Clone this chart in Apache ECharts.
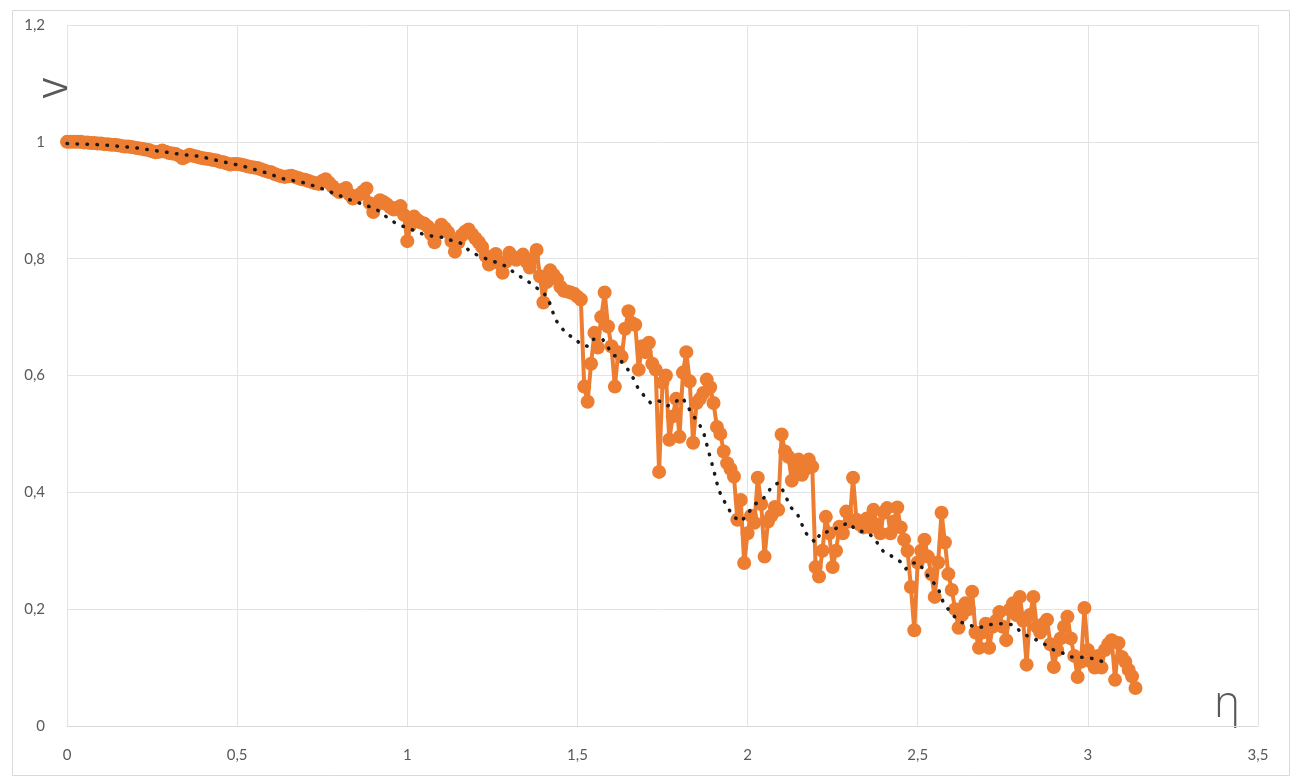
<!DOCTYPE html>
<html>
<head>
<meta charset="utf-8">
<script src="https://cdn.jsdelivr.net/npm/echarts@6/dist/echarts.min.js"></script>
<style>
html,body{margin:0;padding:0;background:#fff;}
#chart{width:1297px;height:776px;}
</style>
</head>
<body>
<div id="chart"></div>
<script>
// η values of the measured series (0 .. 3.14)
const etaValues = [
0.00,0.01,0.02,0.03,0.04,0.05,0.06,0.07,0.08,0.09,0.10,0.11,0.12,0.13,0.14,0.15,0.16,0.17,0.18,0.19,
0.20,0.21,0.22,0.23,0.24,0.25,0.26,0.27,0.28,0.29,0.30,0.31,0.32,0.33,0.34,0.35,0.36,0.37,0.38,0.39,
0.40,0.41,0.42,0.43,0.44,0.45,0.46,0.47,0.48,0.49,0.50,0.51,0.52,0.53,0.54,0.55,0.56,0.57,0.58,0.59,
0.60,0.61,0.62,0.63,0.64,0.65,0.66,0.67,0.68,0.69,0.70,0.71,0.72,0.73,0.74,0.75,0.76,0.77,0.78,0.79,
0.80,0.81,0.82,0.83,0.84,0.85,0.86,0.87,0.88,0.89,0.90,0.91,0.92,0.93,0.94,0.95,0.96,0.97,0.98,0.99,
1.00,1.01,1.02,1.03,1.04,1.05,1.06,1.07,1.08,1.09,1.10,1.11,1.12,1.13,1.14,1.15,1.16,1.17,1.18,1.19,
1.20,1.21,1.22,1.23,1.24,1.25,1.26,1.27,1.28,1.29,1.30,1.31,1.32,1.33,1.34,1.35,1.36,1.37,1.38,1.39,
1.40,1.41,1.42,1.43,1.44,1.45,1.46,1.47,1.48,1.49,1.50,1.51,1.52,1.53,1.54,1.55,1.56,1.57,1.58,1.59,
1.60,1.61,1.62,1.63,1.64,1.65,1.66,1.67,1.68,1.69,1.70,1.71,1.72,1.73,1.74,1.75,1.76,1.77,1.78,1.79,
1.80,1.81,1.82,1.83,1.84,1.85,1.86,1.87,1.88,1.89,1.90,1.91,1.92,1.93,1.94,1.95,1.96,1.97,1.98,1.99,
2.00,2.01,2.02,2.03,2.04,2.05,2.06,2.07,2.08,2.09,2.10,2.11,2.12,2.13,2.14,2.15,2.16,2.17,2.18,2.19,
2.20,2.21,2.22,2.23,2.24,2.25,2.26,2.27,2.28,2.29,2.30,2.31,2.32,2.33,2.34,2.35,2.36,2.37,2.38,2.39,
2.40,2.41,2.42,2.43,2.44,2.45,2.46,2.47,2.48,2.49,2.50,2.51,2.52,2.53,2.54,2.55,2.56,2.57,2.58,2.59,
2.60,2.61,2.62,2.63,2.64,2.65,2.66,2.67,2.68,2.69,2.70,2.71,2.72,2.73,2.74,2.75,2.76,2.77,2.78,2.79,
2.80,2.81,2.82,2.83,2.84,2.85,2.86,2.87,2.88,2.89,2.90,2.91,2.92,2.93,2.94,2.95,2.96,2.97,2.98,2.99,
3.00,3.01,3.02,3.03,3.04,3.05,3.06,3.07,3.08,3.09,3.10,3.11,3.12,3.13,3.14];
// V values of the measured series
const vValues = [
1.000,1.000,1.000,1.000,1.000,0.999,0.999,0.998,0.998,0.997,0.997,0.996,0.996,0.995,0.995,0.994,0.993,0.992,0.992,0.991,
0.990,0.989,0.988,0.987,0.986,0.984,0.982,0.983,0.985,0.983,0.981,0.980,0.979,0.976,0.972,0.975,0.978,0.976,0.975,0.973,
0.972,0.971,0.970,0.969,0.968,0.966,0.965,0.963,0.961,0.962,0.962,0.961,0.960,0.958,0.957,0.956,0.955,0.953,0.951,0.949,
0.948,0.945,0.943,0.941,0.940,0.941,0.942,0.940,0.938,0.936,0.935,0.933,0.931,0.929,0.928,0.933,0.936,0.930,0.924,0.918,
0.914,0.918,0.921,0.910,0.903,0.906,0.910,0.915,0.920,0.895,0.880,0.892,0.900,0.897,0.893,0.888,0.884,0.887,0.890,0.875,
0.830,0.858,0.872,0.866,0.862,0.860,0.855,0.842,0.828,0.848,0.858,0.852,0.845,0.830,0.812,0.828,0.840,0.846,0.850,0.842,
0.835,0.828,0.820,0.805,0.790,0.800,0.808,0.792,0.776,0.795,0.810,0.803,0.798,0.802,0.807,0.795,0.785,0.800,0.815,0.770,
0.725,0.760,0.780,0.772,0.765,0.752,0.745,0.744,0.742,0.740,0.735,0.730,0.581,0.555,0.620,0.673,0.648,0.700,0.742,0.684,
0.650,0.581,0.640,0.632,0.680,0.710,0.690,0.687,0.610,0.650,0.640,0.656,0.620,0.610,0.435,0.588,0.600,0.490,0.530,0.560,
0.495,0.605,0.640,0.590,0.485,0.553,0.560,0.570,0.593,0.580,0.553,0.512,0.500,0.470,0.450,0.440,0.427,0.353,0.387,0.279,
0.330,0.360,0.348,0.425,0.380,0.290,0.350,0.360,0.375,0.370,0.499,0.470,0.461,0.420,0.444,0.456,0.430,0.440,0.456,0.444,
0.272,0.256,0.300,0.358,0.330,0.272,0.300,0.341,0.330,0.367,0.350,0.425,0.353,0.345,0.340,0.355,0.340,0.370,0.345,0.330,
0.365,0.373,0.330,0.350,0.374,0.340,0.319,0.300,0.238,0.164,0.280,0.300,0.319,0.290,0.260,0.221,0.280,0.365,0.314,0.260,
0.233,0.200,0.168,0.190,0.210,0.200,0.230,0.160,0.134,0.160,0.175,0.134,0.170,0.180,0.195,0.170,0.147,0.199,0.210,0.190,
0.221,0.180,0.105,0.190,0.221,0.170,0.160,0.175,0.182,0.140,0.101,0.130,0.150,0.170,0.187,0.150,0.120,0.084,0.110,0.202,
0.130,0.110,0.100,0.120,0.100,0.130,0.140,0.147,0.079,0.142,0.118,0.110,0.096,0.085,0.065];
// trend line (moving average) points
const trendEta = [
0,0.1,0.2,0.27,0.33,0.39,0.45,0.52,0.58,0.64,0.69,0.74,0.78,0.83,0.88,0.91,0.94,0.97,1.0,1.05,
1.08,1.11,1.135,1.16,1.185,1.21,1.235,1.265,1.29,1.31,1.33,1.355,1.375,1.4,1.415,1.425,1.435,1.45,1.47,1.49,
1.51,1.53,1.547,1.574,1.606,1.62,1.635,1.656,1.68,1.715,1.738,1.765,1.782,1.809,1.824,1.838,1.856,1.871,1.885,1.9,
1.915,1.94,1.96,1.98,2.0,2.018,2.04,2.06,2.07,2.09,2.106,2.126,2.147,2.17,2.19,2.2,2.215,2.244,2.268,2.297,
2.318,2.347,2.37,2.385,2.4,2.426,2.45,2.465,2.485,2.503,2.524,2.538,2.559,2.576,2.603,2.626,2.65,2.68,2.706,2.735,
2.76,2.782,2.803,2.826,2.85,2.876,2.9,2.926,2.95,2.97,3.0,3.018,3.044,3.055];
const trendV = [
0.997,0.995,0.99,0.984,0.979,0.975,0.967,0.958,0.948,0.936,0.931,0.922,0.913,0.901,0.891,0.884,0.871,0.859,0.853,0.841,
0.838,0.836,0.83,0.826,0.812,0.805,0.799,0.793,0.787,0.778,0.77,0.761,0.752,0.742,0.73,0.713,0.696,0.684,0.67,0.665,
0.653,0.65,0.662,0.662,0.634,0.633,0.619,0.605,0.576,0.553,0.557,0.548,0.553,0.562,0.547,0.533,0.519,0.502,0.471,0.439,
0.404,0.375,0.358,0.35,0.362,0.379,0.385,0.399,0.41,0.416,0.401,0.375,0.362,0.331,0.319,0.314,0.331,0.333,0.341,0.348,
0.336,0.331,0.324,0.31,0.298,0.29,0.281,0.269,0.279,0.279,0.262,0.25,0.238,0.21,0.19,0.178,0.173,0.168,0.173,0.175,
0.175,0.173,0.161,0.153,0.147,0.139,0.13,0.125,0.118,0.118,0.117,0.115,0.11,0.108];
const xTicks = {min:0, max:3.5, interval:0.5};
const yTicks = {min:0, max:1.2, interval:0.2};
const yTitle = 'V';
const xTitle = 'η';

const measured = etaValues.map((e,i)=>[e, vValues[i]]);
const trend = trendEta.map((e,i)=>[e, trendV[i]]);
const fmt = v => String(+v.toFixed(2)).replace('.', ',');
const labelFont = {color:'#595959', fontSize:15, fontFamily:'Lato, "Open Sans", sans-serif'};

const chart = echarts.init(document.getElementById('chart'), null, {renderer:'canvas'});
chart.setOption({
  animation:false,
  backgroundColor:'#fff',
  grid:{left:67, right:39, top:25, bottom:50, containLabel:false},
  xAxis:{type:'value', min:xTicks.min, max:xTicks.max, interval:xTicks.interval,
    axisLine:{show:true, onZero:false, lineStyle:{color:'#d9d9d9', width:1}},
    axisTick:{show:false},
    axisLabel:Object.assign({margin:22, formatter:fmt}, labelFont),
    splitLine:{show:true, lineStyle:{color:'#e3e3e3', width:1}}},
  yAxis:{type:'value', min:yTicks.min, max:yTicks.max, interval:yTicks.interval,
    axisLine:{show:false}, axisTick:{show:false},
    axisLabel:Object.assign({margin:22, formatter:fmt}, labelFont),
    splitLine:{show:true, lineStyle:{color:'#e3e3e3', width:1}}},
  graphic:[
    {type:'rect', left:10, top:8, shape:{width:1277, height:765}, style:{fill:null, stroke:'#d9d9d9', lineWidth:1}, z:-1, silent:true},
    {type:'text', x:58, y:88, rotation:Math.PI/2, style:{text:yTitle, fill:'#595959', font:'34px "Open Sans", sans-serif', align:'center', verticalAlign:'middle'}},
    {type:'text', x:1227, y:704, style:{text:xTitle, fill:'#595959', font:'300 44px "Open Sans", sans-serif', align:'center', verticalAlign:'middle'}}
  ],
  series:[
    {type:'line', data:measured, symbol:'circle', symbolSize:14, showSymbol:true,
     itemStyle:{color:'#ED7D31'}, lineStyle:{color:'#ED7D31', width:4}, z:2},
    {type:'line', data:trend, symbol:'none', smooth:false,
     lineStyle:{color:'#1a1a1a', width:3.5, type:[0.5, 9.5], cap:'round'}, z:3}
  ]
});
</script>
</body>
</html>
